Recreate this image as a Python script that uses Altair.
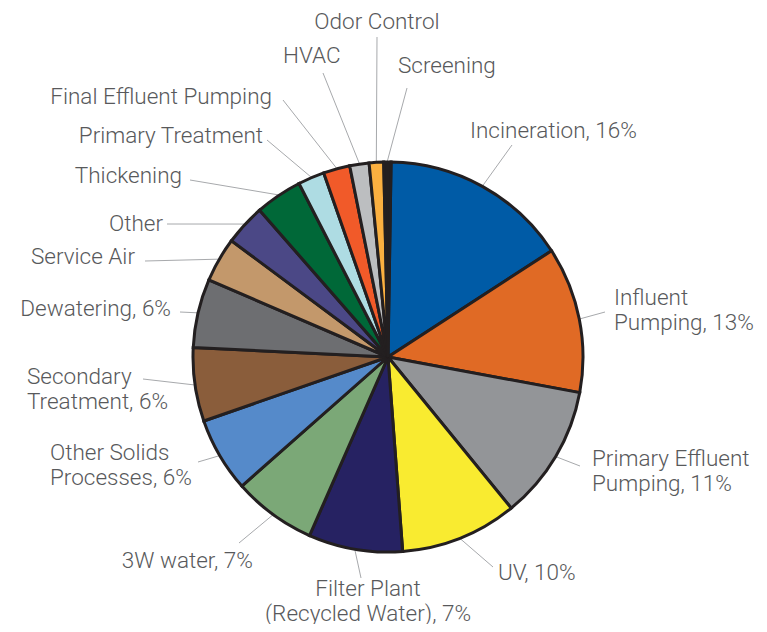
import math
import altair as alt
import pandas as pd

# ---- data (clockwise from 12 o'clock) ----
categories = [
    "Incineration", "Influent Pumping", "Primary Effluent Pumping", "UV",
    "Filter Plant (Recycled Water)", "3W water", "Other Solids Processes",
    "Secondary Treatment", "Dewatering", "Service Air", "Other", "Thickening",
    "Primary Treatment", "Final Effluent Pumping", "HVAC", "Odor Control", "Screening",
]
shares = [15.6, 12.1, 11.2, 9.7, 7.8, 6.9, 6.2, 6.1, 5.7, 3.7, 3.4, 3.9,
          2.2, 2.2, 1.6, 1.2, 0.6]
label_texts = [
    "Incineration, 16%", "Influent\nPumping, 13%", "Primary Effluent\nPumping, 11%",
    "UV, 10%", "Filter Plant\n(Recycled Water), 7%", "3W water, 7%",
    "Other Solids\nProcesses, 6%", "Secondary\nTreatment, 6%", "Dewatering, 6%",
    "Service Air", "Other", "Thickening", "Primary Treatment",
    "Final Effluent Pumping", "HVAC", "Odor Control", "Screening",
]
colors = [
    "#005BA6", "#E06A25", "#939598", "#F9EB30", "#262262", "#7BA877",
    "#558ACA", "#8A5D3B", "#6D6E71", "#C3986B", "#4B4886", "#006838",
    "#AEDCE3", "#F15A29", "#BCBEC0", "#FBB040", "#231F20",
]

# ---- layout (page pixel coordinates) ----
W, H = 751, 616
CX, CY, R = 388, 357, 195
START = math.radians(0.9)
# label anchor x, baseline y, alignment, leader outer end x, y
layout = {
    "Incineration": (470, 138, "left", 512, 145),
    "Influent Pumping": (614, 305, "left", 605, 312),
    "Primary Effluent Pumping": (592, 466, "left", 580, 466),
    "UV": (498, 580, "left", 493, 567),
    "Filter Plant (Recycled Water)": (368, 596, "center", 361, 578),
    "3W water": (253, 568, "right", 239, 543),
    "Other Solids Processes": (50, 460, "left", 198, 462),
    "Secondary Treatment": (27, 384, "left", 143, 379),
    "Dewatering": (171, 316, "right", 180, 312),
    "Service Air": (135, 264, "right", 145, 261),
    "Other": (163, 231, "right", 167, 224),
    "Thickening": (182, 183, "right", 190, 180),
    "Primary Treatment": (263, 143, "right", 267, 140),
    "Final Effluent Pumping": (272, 104, "right", 283, 100),
    "HVAC": (283, 63, "left", 323, 73),
    "Odor Control": (377, 29, "center", 377, 37),
    "Screening": (398, 73, "left", 407, 88),
}

df = pd.DataFrame({"cat": categories, "share": shares, "idx": range(len(categories))})

total = sum(shares)
rows = []
cum = 0.0
for c, s, t in zip(categories, shares, label_texts):
    mid = START + 2 * math.pi * (cum + s / 2) / total
    cum += s
    tx, ty, al, lx, ly = layout[c]
    rows.append({
        "cat": c, "text": t, "tx": tx, "ty": ty, "align": al,
        "lx": lx, "ly": ly,
        "rx": CX + (R + 1) * math.sin(mid), "ry": CY - (R + 1) * math.cos(mid),
    })
lab = pd.DataFrame(rows)

xs = alt.Scale(domain=[8, 8 + W], nice=False, zero=False)
ys = alt.Scale(domain=[8, 8 + H], nice=False, zero=False, reverse=True)

pie = alt.Chart(df).mark_arc(
    outerRadius=R, stroke="#231F20", strokeWidth=3, strokeJoin="miter"
).encode(
    theta=alt.Theta("share:Q", stack=True,
                    scale=alt.Scale(range=[START, START + 2 * math.pi])),
    color=alt.Color("cat:N", scale=alt.Scale(domain=categories, range=colors), legend=None),
    order=alt.Order("idx:Q"),
    x=alt.value(CX - 8),
    y=alt.value(CY - 8),
)

lines = alt.Chart(lab).mark_rule(color="#A7A9AC", strokeWidth=1).encode(
    x=alt.X("lx:Q", scale=xs, axis=None),
    y=alt.Y("ly:Q", scale=ys, axis=None),
    x2="rx:Q",
    y2="ry:Q",
)

def text_layer(al):
    return alt.Chart(lab).transform_filter(
        alt.datum.align == al
    ).mark_text(
        align=al, baseline="alphabetic", font="Roboto", fontWeight=300,
        fontSize=22.5, color="#58595B", lineBreak="\n", lineHeight=24.5,
    ).encode(
        x=alt.X("tx:Q", scale=xs, axis=None),
        y=alt.Y("ty:Q", scale=ys, axis=None),
        text="text:N",
    )

chart = alt.layer(
    lines, pie, text_layer("left"), text_layer("right"), text_layer("center")
).properties(
    width=W, height=H, autosize=alt.AutoSizeParams(type="none"), padding=0
).configure_view(stroke=None)

chart.save("out.html", embed_options={"renderer": "svg", "actions": False})
